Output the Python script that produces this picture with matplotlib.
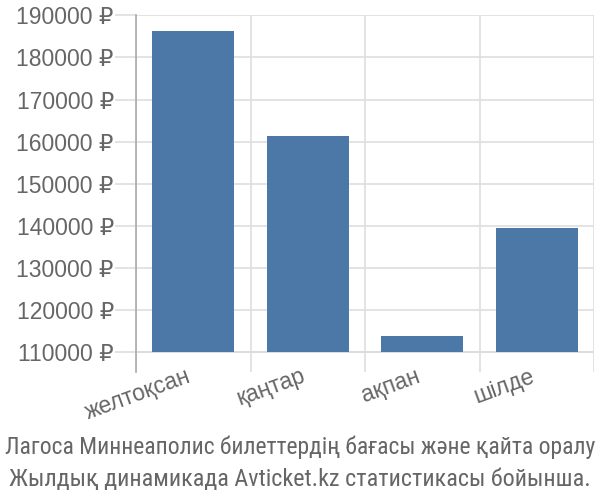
import matplotlib
matplotlib.use("Agg")
import matplotlib.pyplot as plt
from matplotlib.ticker import FixedLocator, FuncFormatter
from matplotlib.transforms import ScaledTranslation

# data
months = ["желтоқсан", "қаңтар", "ақпан", "шілде"]
prices = [186200, 161300, 113900, 139500]
y_ticks = [110000, 120000, 130000, 140000, 150000, 160000, 170000, 180000, 190000]
caption = ["Лагоса Миннеаполис билеттердің бағасы және қайта оралу",
           "Жылдық динамикада Avticket.kz статистикасы бойынша."]

BAR = "#4c78a8"
GRID = "#dedede"
TXT = "#666666"
BASE = 110000

plt.rcParams["font.family"] = ["Liberation Sans", "DejaVu Sans"]

fig = plt.figure(figsize=(6, 5), dpi=100)
ax = fig.add_axes([136 / 600, 1 - 372 / 500, 458 / 600, (372 - 15.3) / 500])

x = list(range(len(months)))
ax.bar(x, [p - BASE for p in prices], bottom=BASE, width=0.715, color=BAR, zorder=3)

ax.set_xlim(-0.5, len(months) - 0.5)
ax.set_ylim(105300, 190000)

# vertical separators between bars
ax.xaxis.set_minor_locator(FixedLocator([i - 0.5 for i in range(len(months) + 1)]))
ax.grid(which="minor", axis="x", color=GRID, lw=1.2, zorder=0)
ax.set_yticks(y_ticks)
ax.grid(which="major", axis="y", color=GRID, lw=1.2, zorder=0)
ax.axhline(BASE, color="#cccccc", lw=1.2, zorder=1)

ax.yaxis.set_major_formatter(FuncFormatter(lambda v, _: f"{int(v)} ₽"))
ax.tick_params(axis="y", length=15, width=1.2, color=GRID, pad=1,
               labelsize=16.5, labelcolor=TXT)
ax.tick_params(axis="x", which="minor", length=0)

ax.set_xticks(x)
ax.set_xticklabels(months, rotation=20, ha="right", va="top",
                   rotation_mode="anchor")
ax.tick_params(axis="x", which="major", length=0, pad=-4,
               labelsize=16.5, labelcolor=TXT)
shift = ScaledTranslation(-7 / 100, 2 / 100, fig.dpi_scale_trans)
for lbl in ax.get_xticklabels():
    lbl.set_transform(lbl.get_transform() + shift)

for s in ["top", "right", "bottom"]:
    ax.spines[s].set_visible(False)
ax.spines["left"].set_color("#aaaaaa")
ax.spines["left"].set_linewidth(1.2)

cap_family = ["Liberation Sans Narrow", "Roboto Condensed", "DejaVu Sans"]
fig.text(0.5, 1 - 454 / 500, caption[0], ha="center", va="baseline",
         fontsize=17, color=TXT, family=cap_family)
fig.text(0.5, 1 - 486 / 500, caption[1], ha="center", va="baseline",
         fontsize=17.4, color=TXT, family=cap_family)

fig.savefig("out.png", dpi=100)
